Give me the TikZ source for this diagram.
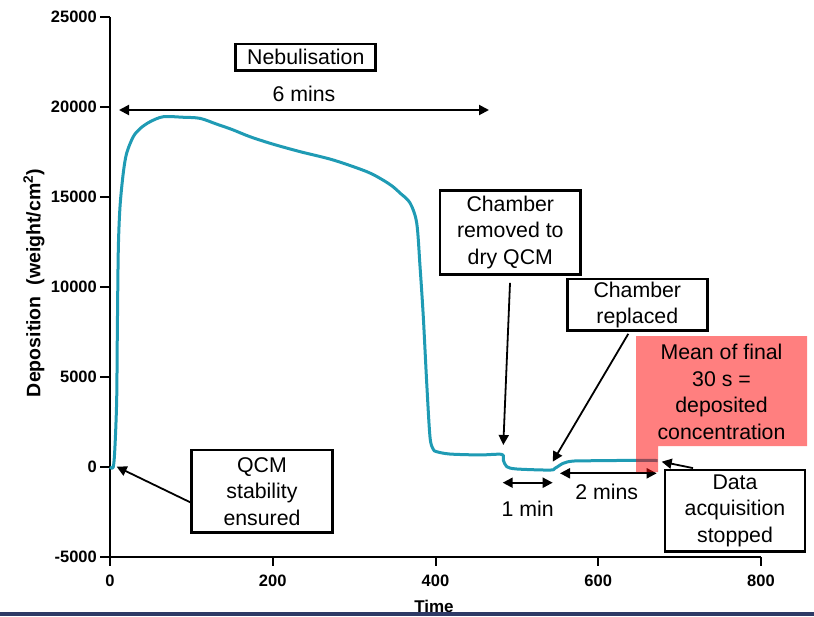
\documentclass[tikz,border=0pt]{standalone}
\usepackage{fontspec}
\setmainfont{Liberation Sans}
\usetikzlibrary{arrows.meta}
\definecolor{trace}{HTML}{1F9BB4}
\definecolor{barblue}{HTML}{2E3A66}
\tikzset{
  notebox/.style={draw, line width=2.9pt, fill=white, align=center, inner sep=0pt,
    font=\fontsize{21.3}{26.5}\selectfont},
  lbl/.style={inner sep=0pt, align=center, font=\fontsize{21.3}{26.5}\selectfont},
  ticklabel/.style={inner sep=0pt, font=\bfseries\fontsize{16.5}{18}\selectfont},
  pointer/.style={-{Triangle[length=10pt,width=10pt]}, line width=1.8pt},
  spanarrow/.style={{Triangle[length=10pt,width=10pt]}-{Triangle[length=10pt,width=10pt]}, line width=2pt},
}
\begin{document}
\begin{tikzpicture}[x=1pt, y=-1pt]
  \useasboundingbox (0,0) rectangle (814,616);
  % axes
  \draw[line width=2pt] (110,17) -- (110,557) -- (761,557);
  \foreach \py/\lab in {557/-5000, 467/0, 377/5000, 287/10000, 197/15000, 107/20000, 17/25000}
    {\draw[line width=2pt] (100,\py) -- (110,\py);
     \node[ticklabel, anchor=east] at (97,\py) {\lab};}
  \foreach \px/\lab in {110/0, 272.75/200, 435.5/400, 598.25/600, 761/800}
    {\draw[line width=2pt] (\px,557) -- (\px,566);
     \node[ticklabel] at (\px,581) {\lab};}
  \node[rotate=90, inner sep=0pt, font=\bfseries\fontsize{19.5}{22}\selectfont] (ylab) at (34,283)
    {Deposition\ \ (weight/cm\textsuperscript{2})};
  \node[inner sep=0pt, font=\bfseries\fontsize{17}{19}\selectfont] (xlab) at (434,606.5) {Time};
  % trace
  \begin{scope}[shift={(110pt,-467pt)}, x=0.81375pt, y=18pt]
    \draw[trace, line width=3pt, line join=round] plot[smooth, tension=0.5] coordinates {
      (0,0) (4,0) (6.1,1.13) (8.2,3.72) (9,7.44) (10.2,12.06) (12.3,14.46) (16.3,16.33)
      (20.5,17.44) (28.6,18.35) (36.9,18.8) (49.2,19.18) (65.5,19.46) (90,19.43) (110.6,19.37)
      (131,19.05) (150,18.75) (172,18.35) (200,17.94) (233.5,17.52) (274,17.06) (315.5,16.41)
      (335.5,15.94) (347.8,15.57) (356.4,15.22) (368.7,14.67) (376.9,13.56) (381,11.13)
      (385,8.35) (389.2,4.67) (393.2,1.68) (397,1.0) (401.5,0.85) (417.8,0.72) (454.7,0.67)
      (481.4,0.70) (483.3,0.39) (487.5,0.02) (499.8,-0.11) (540.7,-0.17) (546.9,-0.07)
      (557.1,0.21) (569.3,0.33) (598.1,0.35) (647.2,0.37) (673,0.36)};
  \end{scope}
  % spans
  \coordinate (sixL) at (119,110);
  \coordinate (sixR) at (489,110);
  \coordinate (oneL) at (502.7,482.7);
  \coordinate (oneR) at (552.7,482.7);
  \coordinate (twoL) at (560,473.3);
  \coordinate (twoR) at (656.7,473.3);
  \draw[spanarrow] (sixL) -- (sixR);
  \draw[spanarrow] (oneL) -- (oneR);
  \draw[spanarrow] (twoL) -- (twoR);
  \node[lbl] (six) at (304,94) {6 mins};
  \node[lbl] (one) at (527.7,508.3) {1 min};
  \node[lbl] (two) at (606.7,491.7) {2 mins};
  % notes
  \node[notebox, minimum width=140pt, minimum height=26.7pt] (neb) at (305.8,57.3) {Nebulisation};
  \node[notebox, minimum width=140.6pt, minimum height=82.7pt] (qcm) at (262,491.3) {QCM\\stability\\ensured};
  \node[notebox, minimum width=140.7pt, minimum height=84.3pt] (removed) at (510.3,232.2) {Chamber\\removed to\\dry QCM};
  \node[notebox, minimum width=140pt, minimum height=51.7pt] (replaced) at (637.3,304.8) {Chamber\\replaced};
  \node[notebox, minimum width=140pt, minimum height=81.7pt] (data) at (735,510.8) {Data\\acquisition\\stopped};
  \coordinate (begin) at (116.7,466.7);
  \coordinate (dip) at (503.3,445);
  \coordinate (back) at (552.7,461.7);
  \coordinate (stop) at (661.7,461.7);
  \draw[pointer] ([yshift=-11pt]qcm.west) -- (begin);
  \draw[pointer, shorten <=7pt] (removed.south) -- (dip);
  \draw[pointer, shorten <=2pt] ([xshift=-8pt]replaced.south) -- (back);
  \draw[pointer, shorten <=2pt] ([xshift=-40pt]data.north) -- (stop);
  % final 30 s
  \fill[red, fill opacity=0.5] (636,336) -- (807,336) -- (807,446) -- (658,446) -- (658,472) -- (636,472) -- cycle;
  \node[lbl] (mean) at (721.5,392) {Mean of final\\30 s =\\deposited\\concentration};
  \fill[barblue] (0,612) rectangle (814,616);
\end{tikzpicture}
\end{document}
